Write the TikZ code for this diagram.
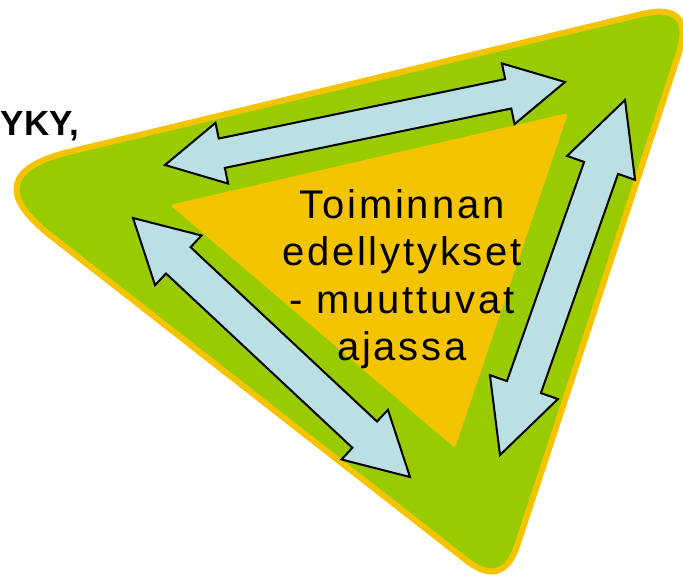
\documentclass[tikz,border=0pt]{standalone}
\usepackage{fontspec}
\setmainfont{Liberation Sans}
\usetikzlibrary{calc}
\definecolor{leafgreen}{RGB}{153,204,0}
\definecolor{sunorange}{RGB}{245,196,0}
\definecolor{paleblue}{RGB}{186,224,228}
\tikzset{
  outershape/.style={fill=leafgreen, draw=sunorange, line width=6pt, line join=round},
  innershape/.style={fill=sunorange, rounded corners=3pt},
  arrowshape/.style={fill=paleblue, draw=black, line width=2pt, line join=miter},
  maintext/.style={align=center, inner sep=0pt, text=black,
    font=\fontsize{40}{47.5}\selectfont\addfontfeature{LetterSpace=7}},
  sidetext/.style={inner sep=0pt, text=black, font=\fontsize{35}{40}\selectfont\bfseries}
}
\newcommand\dblarrow[5]{%
  \coordinate (#1h) at ($(#1)!#4!(#2)$);
  \coordinate (#2h) at ($(#2)!#4!(#1)$);
  \draw[arrowshape] (#1) -- ($(#1h)!#5!90:(#2)$) -- ($(#1h)!#3!90:(#2)$)
    -- ($(#2h)!#3!-90:(#1)$) -- ($(#2h)!#5!-90:(#1)$) -- (#2)
    -- ($(#2h)!#5!90:(#1)$) -- ($(#2h)!#3!90:(#1)$)
    -- ($(#1h)!#3!-90:(#2)$) -- ($(#1h)!#5!-90:(#2)$) -- cycle;
}
\begin{document}
\begin{tikzpicture}[x=1pt,y=-1pt]
\useasboundingbox (0,0) rectangle (683,579);
\clip (0,0) rectangle (683,579);
% outer rounded triangle
\coordinate (oL) at (-27,175);
\coordinate (oT) at (696,1);
\coordinate (oB) at (503,589);
\coordinate (L1) at ($(oL)!100pt!(oB)$);
\coordinate (L2) at ($(oL)!100pt!(oT)$);
\coordinate (T1) at ($(oT)!57pt!(oL)$);
\coordinate (T2) at ($(oT)!57pt!(oB)$);
\coordinate (B1) at ($(oB)!47pt!(oT)$);
\coordinate (B2) at ($(oB)!47pt!(oL)$);
\draw[outershape] (L1) .. controls ($(L1)!0.667!(oL)$) and ($(L2)!0.667!(oL)$) .. (L2)
  -- (T1) .. controls ($(T1)!0.667!(oT)$) and ($(T2)!0.667!(oT)$) .. (T2)
  -- (B1) .. controls ($(B1)!0.667!(oB)$) and ($(B2)!0.667!(oB)$) .. (B2) -- cycle;
% inner triangle
\coordinate (iL) at (170,205);
\coordinate (iT) at (568,113);
\coordinate (iB) at (455,448);
\fill[innershape] (iL) -- (iT) -- (iB) -- cycle;
% arrows
\coordinate (a1s) at (165,165);
\coordinate (a1e) at (565,82);
\coordinate (a2s) at (133,218);
\coordinate (a2e) at (410,477);
\coordinate (a3s) at (625,100);
\coordinate (a3e) at (500,455);
\dblarrow{a1s}{a1e}{15pt}{58pt}{31pt}
\dblarrow{a2s}{a2e}{18pt}{62pt}{34pt}
\dblarrow{a3s}{a3e}{18pt}{72pt}{36pt}
% texts
\node[maintext, anchor=north] (center) at (402,189) {Toiminnan\\edellytykset\\- muuttuvat\\ajassa};
\node[sidetext, anchor=base east] (side) at (79,135) {YKY,};
\end{tikzpicture}
\end{document}
